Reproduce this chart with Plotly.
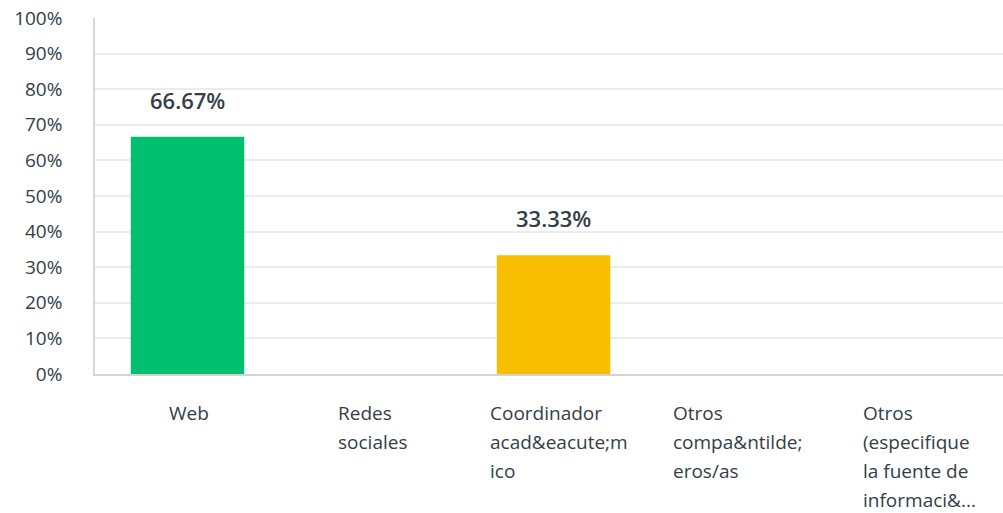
import plotly.graph_objects as go

# ---- data ----
categories = ["Web", "Redes sociales", "Coordinador acad&eacute;mico",
              "Otros compa&ntilde;eros/as", "Otros (especifique la fuente de informaci&..."]
label_lines = [
    ["Web"],
    ["Redes", "sociales"],
    ["Coordinador", "acad&amp;eacute;m", "ico"],
    ["Otros", "compa&amp;ntilde;", "eros/as"],
    ["Otros", "(especifique", "la fuente de", "informaci&amp;..."],
]
values = [66.67, 0, 33.33, 0, 0]
value_labels = ["66.67%", "", "33.33%", "", ""]
y_ticks = [0, 10, 20, 30, 40, 50, 60, 70, 80, 90, 100]
y_tick_text = [f"{t}%" for t in y_ticks]

# ---- style ----
bar_colors = ["#00BF6F", "#00BF6F", "#F9BE00", "#F9BE00", "#F9BE00"]
text_color = "#333e48"
label_left_offset = [-19.5, -33.5, -64.5, -64.5, -57.5]  # px, left edge of label block vs. category center
FONT = "Open Sans"

xpos = list(range(len(categories)))

fig = go.Figure()
fig.add_trace(go.Bar(
    x=xpos, y=values, width=0.62,
    marker=dict(color=bar_colors, line=dict(width=0)),
    hoverinfo="skip",
))

annotations = []
for i, (v, t) in enumerate(zip(values, value_labels)):
    if t:
        annotations.append(dict(
            x=xpos[i], y=v, xref="x", yref="y", text=t, showarrow=False,
            yanchor="middle", xanchor="center", yshift=37,
            font=dict(family=FONT, size=22, color=text_color, weight=600),
        ))
for i, lines in enumerate(label_lines):
    for j, line in enumerate(lines):
        annotations.append(dict(
            x=xpos[i], y=0, xref="x", yref="y", text=line, showarrow=False,
            xanchor="left", yanchor="middle", xshift=label_left_offset[i],
            yshift=-(39 + 29 * j), borderpad=0,
            font=dict(family=FONT, size=19, color=text_color),
        ))

fig.update_layout(
    width=1003, height=513,
    margin=dict(l=95, r=0, t=18, b=139, autoexpand=False),
    paper_bgcolor="white", plot_bgcolor="white",
    showlegend=False,
    annotations=annotations,
    xaxis=dict(
        range=[-0.5055, 4.456], showticklabels=False, showgrid=False,
        showline=True, linecolor="#d3d3d3", linewidth=2, zeroline=False,
        fixedrange=True, automargin=False,
    ),
    yaxis=dict(
        range=[0, 100], tickvals=y_ticks, ticktext=y_tick_text,
        tickfont=dict(family=FONT, size=19, color=text_color),
        showgrid=True, gridcolor="#ececec", gridwidth=1.5,
        showline=True, linecolor="#d7d7d7", linewidth=1.5, zeroline=False,
        ticks="", ticklabelstandoff=27, fixedrange=True, automargin=False,
        ticklabeloverflow="allow",
    ),
)

# remove the default 8px page margin so the figure fills the 1003x513 window
fig.write_html(
    "out.html",
    config={"displayModeBar": False},
    post_script="document.body.style.margin='0';document.body.style.overflow='hidden';",
)
